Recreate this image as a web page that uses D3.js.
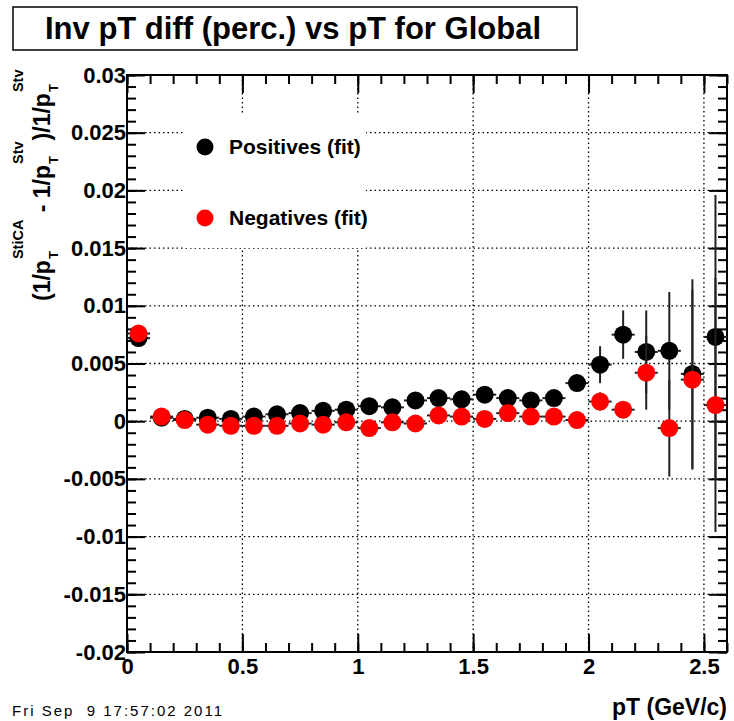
<!DOCTYPE html>
<html>
<head>
<meta charset="utf-8">
<script src="https://cdn.jsdelivr.net/npm/d3@7"></script>
<style>
  body { margin: 0; background: #fff; }
  text { font-family: "Liberation Sans", Arial, sans-serif; }
</style>
</head>
<body>
<div id="chart"></div>
<script>
// Bin centres (pT, GeV/c) and the two fitted series
const binCenters = [0.05, 0.15, 0.25, 0.35, 0.45, 0.55, 0.65, 0.75, 0.85, 0.95,
                    1.05, 1.15, 1.25, 1.35, 1.45, 1.55, 1.65, 1.75, 1.85, 1.95,
                    2.05, 2.15, 2.25, 2.35, 2.45, 2.55];

const positives = [0.0072, 0.0003, 0.0002, 0.0003, 0.0002, 0.0004, 0.0006, 0.0007, 0.0009, 0.0010,
                   0.0013, 0.0012, 0.0018, 0.0020, 0.0019, 0.0023, 0.0020, 0.0018, 0.0020, 0.0033,
                   0.0049, 0.0075, 0.0060, 0.0061, 0.0041, 0.0073];
const positivesErr = [0.0003, 0.0002, 0.0002, 0.0002, 0.0002, 0.0002, 0.0002, 0.0002, 0.0002, 0.0002,
                      0.0002, 0.0002, 0.0002, 0.0003, 0.0003, 0.0003, 0.0003, 0.0003, 0.0004, 0.0004,
                      0.0016, 0.0021, 0.0036, 0.0051, 0.0082, 0.0123];

const negatives = [0.0076, 0.0004, 0.0001, -0.0003, -0.0004, -0.0004, -0.0004, -0.0002, -0.0003, -0.0001,
                   -0.0006, -0.0001, -0.0002, 0.0005, 0.0004, 0.0002, 0.0007, 0.0004, 0.0004, 0.0001,
                   0.0017, 0.0010, 0.0042, -0.0006, 0.0036, 0.0014];
const negativesErr = [0.0003, 0.0002, 0.0002, 0.0002, 0.0002, 0.0002, 0.0002, 0.0002, 0.0002, 0.0002,
                      0.0002, 0.0002, 0.0002, 0.0003, 0.0003, 0.0003, 0.0003, 0.0003, 0.0003, 0.0004,
                      0.0008, 0.0007, 0.0032, 0.0042, 0.0078, 0.0110];

const xTickValues = [0, 0.5, 1, 1.5, 2, 2.5];
const xTickLabels = ["0", "0.5", "1", "1.5", "2", "2.5"];
const yTickValues = [-0.02, -0.015, -0.01, -0.005, 0, 0.005, 0.01, 0.015, 0.02, 0.025, 0.03];
const yTickLabels = ["-0.02", "-0.015", "-0.01", "-0.005", "0", "0.005", "0.01", "0.015", "0.02", "0.025", "0.03"];

const legendLabels = ["Positives (fit)", "Negatives (fit)"];
const seriesColors = ["#000000", "#ff0000"];

// Set up dimensions
const width = 734;
const height = 721;
const frame = { left: 127, right: 727, top: 75, bottom: 652 };

const svg = d3.select('#chart')
    .append('svg')
    .attr('width', width)
    .attr('height', height)
    .style('background-color', '#fff');

const x = d3.scaleLinear().domain([0, 2.6]).range([frame.left, frame.right]);
const y = d3.scaleLinear().domain([-0.02, 0.03]).range([frame.bottom, frame.top]);

// Title box
svg.append('rect')
    .attr('x', 13).attr('y', 7)
    .attr('width', 564).attr('height', 43)
    .attr('fill', '#fff')
    .attr('stroke', '#000')
    .attr('stroke-width', 1.5);
svg.append('text')
    .attr('x', 293).attr('y', 39)
    .attr('text-anchor', 'middle')
    .style('font-size', '31px')
    .style('font-weight', 'bold')
    .text('Inv pT diff (perc.) vs pT for Global');

// Dotted grid at the major ticks
const grid = svg.append('g').attr('stroke', '#000').attr('stroke-width', 1.3)
    .attr('stroke-dasharray', '1.5,3');
grid.selectAll('line.gx')
    .data(xTickValues.filter(v => v > 0))
    .enter().append('line')
    .attr('x1', d => x(d)).attr('x2', d => x(d))
    .attr('y1', frame.top).attr('y2', frame.bottom);
grid.selectAll('line.gy')
    .data(yTickValues.filter(v => v > -0.02 && v < 0.03))
    .enter().append('line')
    .attr('x1', frame.left).attr('x2', frame.right)
    .attr('y1', d => y(d)).attr('y2', d => y(d));

// Legend (white box hides the grid behind it)
svg.append('rect')
    .attr('x', 183).attr('y', 114)
    .attr('width', 183).attr('height', 134)
    .attr('fill', '#fff');
const legend = svg.append('g');
legendLabels.forEach((label, i) => {
    const ly = 147 + i * 71;
    legend.append('circle')
        .attr('cx', 205).attr('cy', ly).attr('r', 8.5)
        .attr('fill', seriesColors[i]);
    legend.append('text')
        .attr('x', 229).attr('y', ly + 7)
        .style('font-size', '21px')
        .style('font-weight', 'bold')
        .text(label);
});

// Axes: ticks point inward on all four sides
function styleAxis(g) {
    g.select('.domain').remove();
    g.selectAll('.tick line').attr('stroke', '#000').attr('stroke-width', 2);
    g.selectAll('.tick text')
        .attr('font-family', '"Liberation Sans", Arial, sans-serif')
        .attr('font-size', 22)
        .attr('font-weight', 'bold')
        .attr('fill', '#000');
}
const xMinor = x.ticks(26);
const yMinor = y.ticks(50);

svg.append('g').attr('transform', `translate(0,${frame.bottom})`)
    .call(d3.axisBottom(x).tickValues(xMinor).tickSize(-9).tickFormat(''))
    .call(styleAxis);
svg.append('g').attr('transform', `translate(0,${frame.bottom})`)
    .call(d3.axisBottom(x).tickValues(xTickValues).tickSize(-18).tickPadding(6)
        .tickFormat((d, i) => xTickLabels[i]))
    .call(styleAxis);
svg.append('g').attr('transform', `translate(0,${frame.top})`)
    .call(d3.axisTop(x).tickValues(xMinor).tickSize(-9).tickFormat(''))
    .call(styleAxis);
svg.append('g').attr('transform', `translate(0,${frame.top})`)
    .call(d3.axisTop(x).tickValues(xTickValues).tickSize(-18).tickFormat(''))
    .call(styleAxis);

svg.append('g').attr('transform', `translate(${frame.left},0)`)
    .call(d3.axisLeft(y).tickValues(yMinor).tickSize(-9).tickFormat(''))
    .call(styleAxis);
svg.append('g').attr('transform', `translate(${frame.left},0)`)
    .call(d3.axisLeft(y).tickValues(yTickValues).tickSize(-18).tickPadding(1)
        .tickFormat((d, i) => yTickLabels[i]))
    .call(styleAxis);
svg.append('g').attr('transform', `translate(${frame.right},0)`)
    .call(d3.axisRight(y).tickValues(yMinor).tickSize(-9).tickFormat(''))
    .call(styleAxis);
svg.append('g').attr('transform', `translate(${frame.right},0)`)
    .call(d3.axisRight(y).tickValues(yTickValues).tickSize(-18).tickFormat(''))
    .call(styleAxis);

// Frame
svg.append('rect')
    .attr('x', frame.left).attr('y', frame.top)
    .attr('width', frame.right - frame.left)
    .attr('height', frame.bottom - frame.top)
    .attr('fill', 'none')
    .attr('stroke', '#000')
    .attr('stroke-width', 2);

// Data: error bars then markers, positives first, negatives drawn over them
const series = [
    { values: positives, errors: positivesErr, color: seriesColors[0] },
    { values: negatives, errors: negativesErr, color: seriesColors[1] }
];
series.forEach(s => {
    const g = svg.append('g');
    const pts = binCenters.map((c, i) => ({ c: c, v: s.values[i], e: s.errors[i] }));
    g.selectAll('line.ey').data(pts).enter().append('line')
        .attr('x1', d => x(d.c)).attr('x2', d => x(d.c))
        .attr('y1', d => y(d.v - d.e)).attr('y2', d => y(d.v + d.e))
        .attr('stroke', '#222').attr('stroke-width', 2);
    g.selectAll('line.ex').data(pts).enter().append('line')
        .attr('x1', d => x(d.c - 0.05)).attr('x2', d => x(d.c + 0.05))
        .attr('y1', d => y(d.v)).attr('y2', d => y(d.v))
        .attr('stroke', '#222').attr('stroke-width', 2);
    g.selectAll('circle').data(pts).enter().append('circle')
        .attr('cx', d => x(d.c)).attr('cy', d => y(d.v))
        .attr('r', 9)
        .attr('fill', s.color);
});

// Y axis title with stacked sub/superscripts, laid out along the rotated baseline
const yTitle = svg.append('g').attr('transform', 'translate(50,301) rotate(-90)');
const titleParts = [
    { main: '(1/p' },
    { sub: 'T', sup: 'StiCA' },
    { main: ' - 1/p' },
    { sub: 'T', sup: 'Stv' },
    { main: ')/1/p' },
    { sub: 'T', sup: 'Stv' }
];
let cursor = 0;
titleParts.forEach(p => {
    if (p.main) {
        const t = yTitle.append('text')
            .attr('x', cursor).attr('y', 0)
            .style('font-size', '23px').style('font-weight', 'bold')
            .style('white-space', 'pre')
            .text(p.main);
        cursor += t.node().getComputedTextLength();
    } else {
        const sb = yTitle.append('text')
            .attr('x', cursor + 1).attr('y', 8)
            .style('font-size', '13px').style('font-weight', 'bold')
            .text(p.sub);
        const sp = yTitle.append('text')
            .attr('x', cursor + 1).attr('y', -27)
            .style('font-size', '14.5px').style('font-weight', 'bold')
            .text(p.sup);
        cursor += Math.max(sb.node().getComputedTextLength(), sp.node().getComputedTextLength()) + 2;
    }
});

// X axis title and timestamp
svg.append('text')
    .attr('x', 727).attr('y', 715)
    .attr('text-anchor', 'end')
    .style('font-size', '23px').style('font-weight', 'bold')
    .text('pT (GeV/c)');
svg.append('text')
    .attr('x', 12).attr('y', 716)
    .attr('textLength', 210)
    .attr('lengthAdjust', 'spacing')
    .style('font-size', '15px')
    .style('white-space', 'pre')
    .text('Fri Sep  9 17:57:02 2011');
</script>
</body>
</html>
